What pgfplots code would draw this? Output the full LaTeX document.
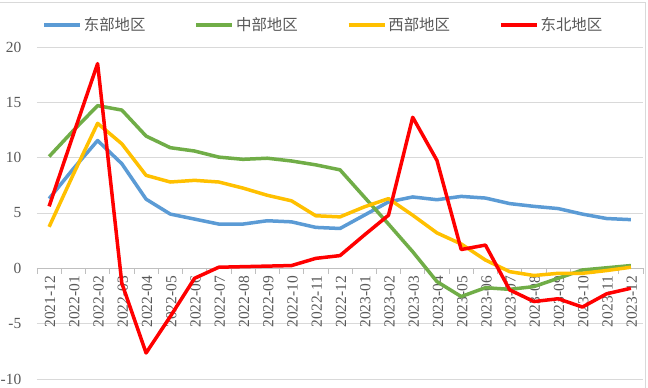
\documentclass[border=0pt]{standalone}
\usepackage{fontspec}
\setmainfont{Liberation Serif}
\newfontfamily\cjk{Noto Sans CJK SC}
\usepackage{pgfplots}
\usepackage{pgfplotstable}
\pgfplotsset{compat=1.18}
\definecolor{cE}{HTML}{5B9BD5}
\definecolor{cC}{HTML}{70AD47}
\definecolor{cW}{HTML}{FFC000}
\definecolor{cNE}{HTML}{FF0000}
\definecolor{gridc}{HTML}{D9D9D9}
\definecolor{axc}{HTML}{BFBFBF}
\definecolor{labc}{HTML}{595959}
\pgfplotstableread{
idx E C W NE
0 6.3 10.1 3.75 5.6
1 9.0 12.45 8.5 12.1
2 11.55 14.7 13.1 18.5
3 9.45 14.3 11.25 -1.35
4 6.25 11.95 8.4 -7.65
5 4.9 10.9 7.8 -4.35
6 4.45 10.6 7.95 -0.9
7 4.0 10.05 7.8 0.1
8 4.0 9.85 7.25 0.15
9 4.3 9.95 6.6 0.2
10 4.2 9.7 6.1 0.25
11 3.7 9.35 4.75 0.9
12 3.6 8.9 4.65 1.15
13 4.8 6.45 5.55 3.0
14 6.0 4.0 6.3 4.8
15 6.45 1.5 4.8 13.65
16 6.2 -1.2 3.2 9.75
17 6.5 -2.55 2.2 1.7
18 6.35 -1.75 0.75 2.1
19 5.85 -1.9 -0.3 -1.95
20 5.6 -1.65 -0.65 -3.0
21 5.4 -0.9 -0.45 -2.75
22 4.9 -0.15 -0.45 -3.5
23 4.5 0.05 -0.2 -2.3
24 4.4 0.25 0.1 -1.8
}\data
\pgfplotsset{
  base/.style={
    at={(37bp,9bp)}, anchor=south west,
    scale only axis, width=606bp, height=332bp,
    xmin=-0.5, xmax=24.5, ymin=-10, ymax=20,
  }
}
\begin{document}
\begin{tikzpicture}
\fill[white] (0,0) rectangle (648bp,388bp);
% background axis: grid, zero line, ticks and labels
\begin{axis}[
  base,
  axis x line*=middle, axis y line*=left,
  y axis line style={draw=none},
  x axis line style={color=axc, line width=0.75bp, -},
  ytick={-10,-5,0,5,10,15,20},
  yticklabels={-10,-5,0,5,10,15,20},
  ymajorgrids,
  grid style={color=gridc, line width=0.75bp},
  major y tick style={draw=none},
  xtick={0,...,24},
  xticklabels={2021-12,2022-01,2022-02,2022-03,2022-04,2022-05,2022-06,2022-07,2022-08,2022-09,2022-10,2022-11,2022-12,2023-01,2023-02,2023-03,2023-04,2023-05,2023-06,2023-07,2023-08,2023-09,2023-10,2023-11,2023-12},
  major x tick style={draw=none},
  minor xtick={-0.5,0.5,...,24.5},
  minor x tick style={color=axc, line width=0.75bp},
  minor tick length=5.5bp,
  tick align=outside,
  x tick label style={rotate=90, anchor=east, font=\fontsize{15.5}{17}\selectfont, text=labc, yshift=-1bp},
  y tick label style={font=\fontsize{15.5}{17}\selectfont, text=labc, xshift=-8bp},
]
\end{axis}
% foreground axis: the series and legend
\begin{axis}[
  base,
  hide axis,
  legend style={at={(0.4725,1.066)}, anchor=center, draw=none, fill=none,
    legend columns=4, font=\cjk\fontsize{15.5}{17}\selectfont, text=labc,
    /tikz/every even column/.append style={column sep=47bp}},
  legend image code/.code={\draw[#1] (0bp,0bp) -- (36bp,0bp);},
  every axis plot/.append style={line width=3.5bp, line join=round},
]
\addplot[cE] table[x=idx,y=E]{\data};
\addlegendentry{东部地区}
\addplot[cC] table[x=idx,y=C]{\data};
\addlegendentry{中部地区}
\addplot[cW] table[x=idx,y=W]{\data};
\addlegendentry{西部地区}
\addplot[cNE] table[x=idx,y=NE]{\data};
\addlegendentry{东北地区}
\end{axis}
\draw[gridc, line width=0.75bp] (0,386bp) -- (645.5bp,386bp) -- (645.5bp,0);
\pgfresetboundingbox
\path[use as bounding box] (0,0) rectangle (648bp,388bp);
\end{tikzpicture}
\end{document}
